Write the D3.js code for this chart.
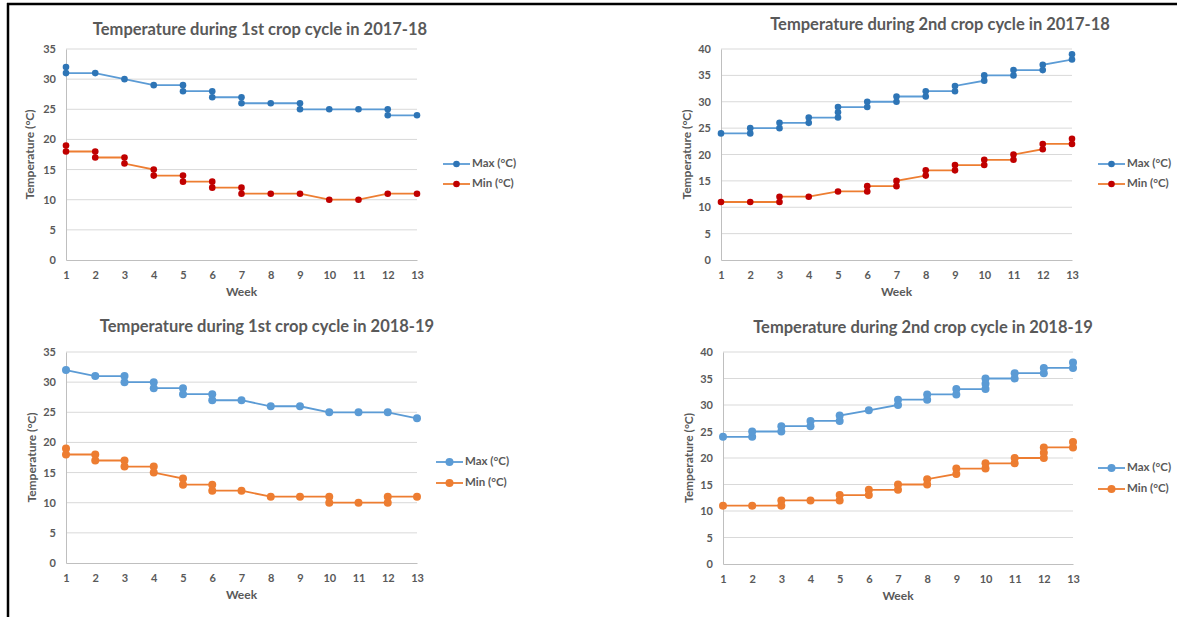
<!DOCTYPE html>
<html>
<head>
<meta charset="utf-8">
<script src="https://cdn.jsdelivr.net/npm/d3@7"></script>
<style>
  body { margin: 0; background: #fff; }
  svg text { font-family: Lato, "Open Sans", sans-serif; fill: #595959; }
</style>
</head>
<body>
<svg id="chart" width="1177" height="617"></svg>
<script>
// weeks on the x axis
var weeks = [1, 2, 3, 4, 5, 6, 7, 8, 9, 10, 11, 12, 13];

// values recorded in each week, in the order they are joined by the line
var max1st1718 = [[32, 31], [31], [30], [29], [29, 28], [28, 27], [27, 26], [26], [26, 25], [25], [25], [25, 24], [24]];
var min1st1718 = [[19, 18], [18, 17], [17, 16], [15, 14], [14, 13], [13, 12], [12, 11], [11], [11], [10], [10], [11], [11]];

var max2nd1718 = [[24], [24, 25], [25, 26], [26, 27], [27, 28, 29], [29, 30], [30, 31], [31, 32], [32, 33], [34, 35], [35, 36], [36, 37], [38, 39]];
var min2nd1718 = [[11], [11], [11, 12], [12], [13], [13, 14], [14, 15], [16, 17], [17, 18], [18, 19], [19, 20], [21, 22], [22, 23]];

var max1st1819 = [[32], [31], [31, 30], [30, 29], [29, 28], [28, 27], [27], [26], [26], [25], [25], [25], [24]];
var min1st1819 = [[19, 18], [18, 17], [17, 16], [16, 15], [14, 13], [13, 12], [12], [11], [11], [11, 10], [10], [10, 11], [11]];

var max2nd1819 = [[24], [24, 25], [25, 26], [26, 27], [27, 28], [29], [30, 31], [31, 32], [32, 33], [33, 34, 35], [35, 36], [36, 37], [37, 38]];
var min2nd1819 = [[11], [11], [11, 12], [12], [12, 13], [13, 14], [14, 15], [15, 16], [17, 18], [18, 19], [19, 20], [20, 21, 22], [22, 23]];

var titles = [
  'Temperature during 1st crop cycle in 2017-18',
  'Temperature during 2nd crop cycle in 2017-18',
  'Temperature during 1st crop cycle in 2018-19',
  'Temperature during 2nd crop cycle in 2018-19'
];
var seriesNames = ['Max (\u00b0C)', 'Min (\u00b0C)'];
var yMaxes = [35, 40, 35, 40];

var svg = d3.select('#chart');

// page frame
svg.append('line').attr('x1', 8).attr('x2', 8).attr('y1', 3).attr('y2', 617)
  .attr('stroke', '#000').attr('stroke-width', 2.5);
svg.append('line').attr('x1', 7).attr('x2', 1177).attr('y1', 4).attr('y2', 4)
  .attr('stroke', '#000').attr('stroke-width', 2.5);

var panels = [
  { left: 66, right: 417, top: 49, bottom: 260, titleX: 260, titleY: 31, yLabX: 31, legX: 443, legY: 164, legGap: 20,
    series: [max1st1718, min1st1718], marker: ['#2e75b6', '#c00000'], line: ['#5b9bd5', '#ed7d31'], r: 3.3 },
  { left: 721, right: 1072, top: 49, bottom: 260, titleX: 940, titleY: 26, yLabX: 688, legX: 1098, legY: 164, legGap: 20,
    series: [max2nd1718, min2nd1718], marker: ['#2e75b6', '#c00000'], line: ['#5b9bd5', '#ed7d31'], r: 3.3 },
  { left: 66, right: 417, top: 352, bottom: 563, titleX: 267, titleY: 328, yLabX: 33, legX: 436, legY: 462, legGap: 21,
    series: [max1st1819, min1st1819], marker: ['#5b9bd5', '#ed7d31'], line: ['#5b9bd5', '#ed7d31'], r: 4 },
  { left: 723, right: 1073, top: 352, bottom: 564, titleX: 923, titleY: 329, yLabX: 690, legX: 1098, legY: 468, legGap: 21,
    series: [max2nd1819, min2nd1819], marker: ['#5b9bd5', '#ed7d31'], line: ['#5b9bd5', '#ed7d31'], r: 4 }
];

panels.forEach(function(p, k) {
  var g = svg.append('g');
  var x = d3.scaleLinear().domain([1, 13]).range([p.left, p.right]);
  var y = d3.scaleLinear().domain([0, yMaxes[k]]).range([p.bottom, p.top]);
  var yTicks = d3.range(0, yMaxes[k] + 1, 5);

  // gridlines
  g.append('g').selectAll('line').data(yTicks.slice(1)).enter().append('line')
    .attr('x1', p.left).attr('x2', p.right)
    .attr('y1', function(d) { return y(d); }).attr('y2', function(d) { return y(d); })
    .attr('stroke', '#d9d9d9').attr('stroke-width', 1);

  // axes
  var yAxis = g.append('g').attr('transform', 'translate(' + p.left + ',0)')
    .call(d3.axisLeft(y).tickValues(yTicks).tickSize(0).tickPadding(10));
  var xAxis = g.append('g').attr('transform', 'translate(0,' + p.bottom + ')')
    .call(d3.axisBottom(x).tickValues(weeks).tickSize(0).tickPadding(11));
  [yAxis, xAxis].forEach(function(a) {
    a.select('.domain').attr('stroke', '#bfbfbf');
    a.selectAll('text').attr('font-size', 11).attr('font-weight', 'bold').attr('fill', '#595959');
  });

  g.append('text').attr('x', p.titleX).attr('y', p.titleY)
    .attr('text-anchor', 'middle').attr('dominant-baseline', 'middle')
    .attr('font-size', 16.5).attr('font-weight', 'bold').text(titles[k]);
  g.append('text').attr('x', (p.left + p.right) / 2).attr('y', p.bottom + 33)
    .attr('text-anchor', 'middle').attr('dominant-baseline', 'middle')
    .attr('font-size', 12).attr('font-weight', 'bold').text('Week');
  g.append('text')
    .attr('transform', 'translate(' + p.yLabX + ',' + ((p.top + p.bottom) / 2) + ') rotate(-90)')
    .attr('text-anchor', 'middle').attr('dominant-baseline', 'middle')
    .attr('font-size', 12).attr('font-weight', 'bold').text('Temperature (\u00b0C)');

  var line = d3.line().x(function(d) { return x(d.x); }).y(function(d) { return y(d.y); });

  p.series.forEach(function(vals, s) {
    var pts = weeks.reduce(function(acc, w, i) {
      return acc.concat(vals[i].map(function(v) { return { x: w, y: v }; }));
    }, []);
    g.append('path').datum(pts).attr('d', line)
      .attr('fill', 'none').attr('stroke', p.line[s]).attr('stroke-width', 1.8);
    g.append('g').selectAll('circle').data(pts).enter().append('circle')
      .attr('cx', function(d) { return x(d.x); })
      .attr('cy', function(d) { return y(d.y); })
      .attr('r', p.r).attr('fill', p.marker[s]);

    // legend entry
    var ly = p.legY + s * p.legGap;
    g.append('line').attr('x1', p.legX).attr('x2', p.legX + 27).attr('y1', ly).attr('y2', ly)
      .attr('stroke', p.line[s]).attr('stroke-width', 1.8);
    g.append('circle').attr('cx', p.legX + 13.5).attr('cy', ly).attr('r', p.r).attr('fill', p.marker[s]);
    g.append('text').attr('x', p.legX + 29).attr('y', ly)
      .attr('dominant-baseline', 'middle').attr('font-size', 11.5).attr('font-weight', 'bold').text(seriesNames[s]);
  });
});
</script>
</body>
</html>
